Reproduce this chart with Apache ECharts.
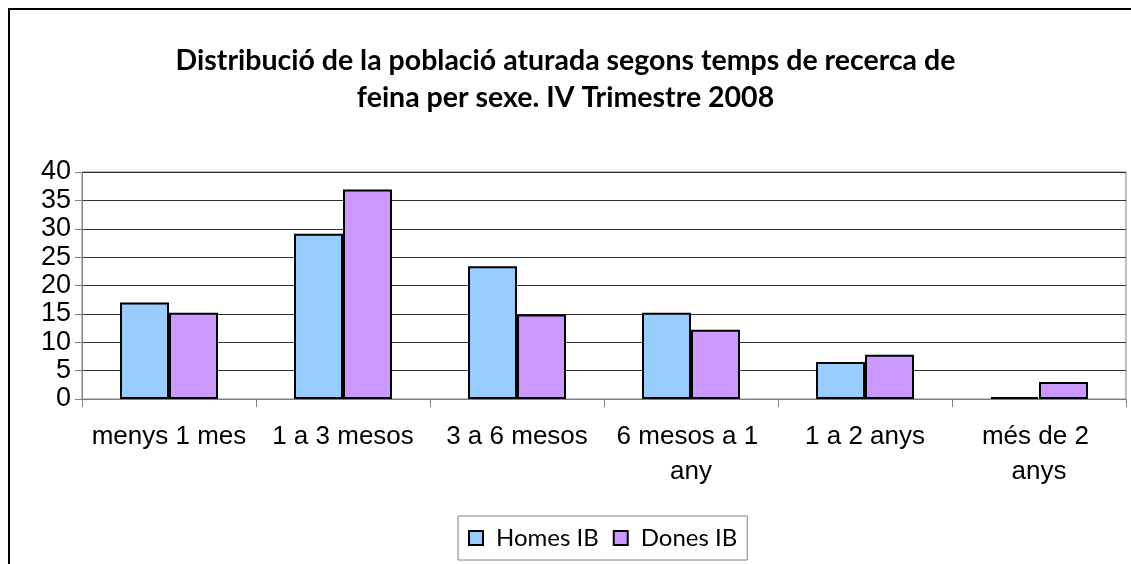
<!DOCTYPE html>
<html>
<head>
<meta charset="utf-8">
<script src="https://cdn.jsdelivr.net/npm/echarts@6/dist/echarts.min.js"></script>
<style>
  html, body { margin: 0; padding: 0; background: #fff; }
  #chart { width: 1131px; height: 564px; }
</style>
</head>
<body>
<div id="chart"></div>
<script>
const categories = ["menys 1 mes", "1 a 3 mesos", "3 a 6 mesos", "6 mesos a 1 any", "1 a 2 anys", "més de 2 anys"];
const homesIB = [17.0, 29.1, 23.4, 15.2, 6.5, 0.35];
const donesIB = [15.2, 36.9, 14.9, 12.2, 7.8, 3.0];
const yTicks = [0, 5, 10, 15, 20, 25, 30, 35, 40];

const chart = echarts.init(document.getElementById("chart"));

const option = {
  backgroundColor: "#fff",
  animation: false,
  // outer frame of the chart (only top and left edges are visible)
  graphic: [
    {
      type: "rect",
      shape: { x: 9, y: 9, width: 1140, height: 600 },
      style: { fill: "none", stroke: "#000", lineWidth: 2 },
    },
  ],
  title: {
    text: "Distribució de la població aturada segons temps de recerca de\nfeina per sexe. IV Trimestre 2008",
    left: "center",
    top: 37,
    textStyle: {
      fontFamily: "Lato",
      fontWeight: "bold",
      fontSize: 28.5,
      lineHeight: 37,
      color: "#000",
      align: "center",
    },
  },
  legend: {
    left: 458,
    top: 516,
    data: ["Homes IB", "Dones IB"],
    itemWidth: 14,
    itemHeight: 14,
    itemGap: 14,
    icon: "rect",
    borderColor: "#808080",
    borderWidth: 1,
    padding: [10, 10, 10, 10],
    textStyle: {
      fontFamily: "Lato",
      fontSize: 24,
      color: "#000",
      padding: [0, 0, 0, 8],
    },
  },
  grid: {
    left: 82,
    right: 5,
    top: 172,
    bottom: 165,
    show: true,
    borderColor: "#808080",
    borderWidth: 1,
    containLabel: false,
  },
  xAxis: {
    type: "category",
    data: categories,
    axisLine: { lineStyle: { color: "#808080", width: 1 } },
    axisTick: { show: true, length: 8, lineStyle: { color: "#808080" } },
    axisLabel: {
      interval: 0,
      margin: 20,
      fontFamily: "Liberation Sans",
      fontSize: 26,
      lineHeight: 35,
      color: "#000",
      width: 160,
      overflow: "break",
    },
  },
  yAxis: {
    type: "value",
    min: yTicks[0],
    max: yTicks[yTicks.length - 1],
    interval: 5,
    axisLine: { show: true, lineStyle: { color: "#808080", width: 1 } },
    axisTick: { show: true, length: 7, lineStyle: { color: "#808080" } },
    axisLabel: {
      margin: 11,
      fontFamily: "Liberation Sans",
      fontSize: 27,
      color: "#000",
    },
    splitLine: { lineStyle: { color: "#333", width: 1 } },
  },
  series: [
    {
      name: "Homes IB",
      type: "bar",
      data: homesIB,
      barWidth: 49,
      barGap: "0%",
      itemStyle: { color: "#99CCFF", borderColor: "#000", borderWidth: 2 },
    },
    {
      name: "Dones IB",
      type: "bar",
      data: donesIB,
      barWidth: 49,
      barGap: "0%",
      itemStyle: { color: "#CC99FF", borderColor: "#000", borderWidth: 2 },
    },
  ],
};

chart.setOption(option);
</script>
</body>
</html>
